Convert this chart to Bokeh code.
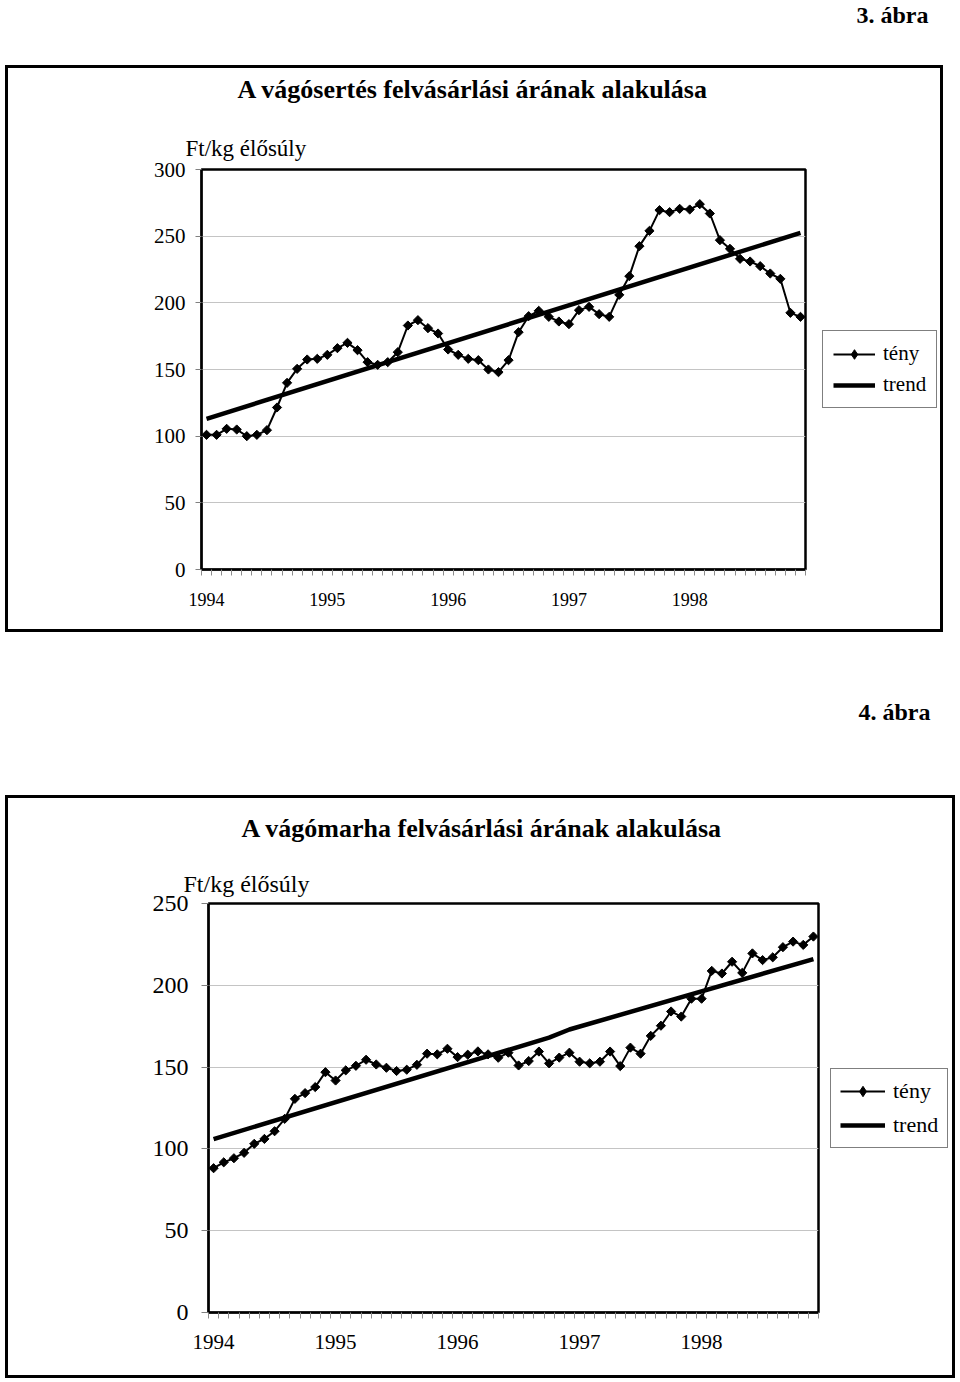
from bokeh.plotting import figure
from bokeh.layouts import column, row
from bokeh.models import Legend, LegendItem, FixedTicker, Range1d, Title, InlineStyleSheet
from bokeh.embed import file_html
from bokeh.resources import INLINE

FONT = "Liberation Serif"
HAS_STANDOFF = "standoff" in Title.properties()

# ---------------- data ----------------
years = ["1994", "1995", "1996", "1997", "1998"]
months_per_year = 12
n_months = len(years) * months_per_year
month_index = list(range(n_months))
year_tick_pos = [i * months_per_year for i in range(len(years))]

series_names = ["tény", "trend"]
unit_label = "Ft/kg élősúly"

fig3_label = "3. ábra"
pig_title = "A vágósertés felvásárlási árának alakulása"
pig_teny = [101, 101, 105.5, 105, 100, 101, 104.5, 121.5, 140, 150.5,
            157.5, 158, 161, 166, 170, 164.5, 155.5, 153.5, 155.5, 163,
            183, 187, 181, 177, 165, 161, 158, 157, 150, 148,
            157, 178, 190, 194, 189.5, 186, 184, 194.5, 197, 191.5,
            189.5, 206, 220, 242.5, 254, 269.5, 268, 270.5, 270, 274,
            267, 247, 240.5, 233, 231, 227.5, 222, 218, 192.5, 189.5]
pig_trend_x = [0, 59]
pig_trend = [113, 252.5]
pig_y_ticks = [0, 50, 100, 150, 200, 250, 300]

fig4_label = "4. ábra"
cattle_title = "A vágómarha felvásárlási árának alakulása"
cattle_teny = [88.2, 91.8, 94.3, 97.6, 103.1, 106.1, 110.8, 118.4, 130.6, 134.1,
               137.8, 146.9, 141.8, 148, 150.8, 154.5, 151.6, 149.6, 147.6, 148.4,
               151.4, 158.2, 157.8, 161.2, 156.1, 157.6, 159.6, 157.8, 155.7, 158.8,
               151, 153.7, 159.5, 152.3, 155.8, 158.8, 153.3, 152.3, 153.3, 159.5,
               150.6, 161.9, 158.2, 169.1, 175.3, 184, 180.9, 191.8, 191.8, 208.8,
               207.2, 214.4, 207.6, 219.5, 215.4, 217.1, 223.3, 226.7, 224.7, 229.8]
cattle_trend_x = [0, 33, 35, 59]
cattle_trend = [106, 168, 173, 216]
cattle_y_ticks = [0, 50, 100, 150, 200, 250]


def make_title(text, size, bold, align, offset, standoff):
    t = Title(text=text, align=align, offset=offset, text_font=FONT, text_font_size=size,
              text_font_style="bold" if bold else "normal", text_color="black")
    if HAS_STANDOFF:
        t.standoff = standoff
    return t


def box_css(left, top, width, height):
    return InlineStyleSheet(css=(
        ":host { position: relative; }\n"
        ":host::after { content: ''; position: absolute; left: %dpx; top: %dpx; "
        "width: %dpx; height: %dpx; border: 3px solid black; box-sizing: border-box; "
        "pointer-events: none; z-index: 50; }" % (left, top, width, height)))


def chart(teny, trend_x, trend_y, y_ticks, title, fig_label, geom, fonts, titles_cfg,
          legend_cfg, ticks_cfg, box):
    left, top, fw, fh, right, bottom = geom
    f_title, f_unit, f_y, f_x, f_leg, f_fig = fonts
    p = figure(frame_width=fw, frame_height=fh,
               min_border_left=left, min_border_top=top, min_border_right=right, min_border_bottom=bottom,
               x_range=Range1d(-0.5, len(teny) - 0.5), y_range=Range1d(y_ticks[0], y_ticks[-1]),
               title=None, toolbar_location=None, output_backend="svg",
               align="start", stylesheets=[box_css(*box)])
    p.background_fill_color = "white"
    p.border_fill_color = "white"
    p.outline_line_color = "black"
    p.outline_line_width = 2.5

    yt = FixedTicker(ticks=y_ticks, minor_ticks=[])
    ya = p.yaxis[0]
    ya.ticker = yt
    ya.axis_line_color = "black"
    ya.axis_line_width = 2
    ya.major_tick_in = 0
    ya.major_tick_out = ticks_cfg[0]
    ya.major_tick_line_color = "#808080"
    ya.minor_tick_line_color = None
    ya.major_label_standoff = ticks_cfg[1]
    ya.major_label_text_font = FONT
    ya.major_label_text_font_size = f_y
    ya.major_label_text_color = "black"

    xa = p.xaxis[0]
    xa.ticker = FixedTicker(ticks=year_tick_pos, minor_ticks=[i - 0.5 for i in range(len(teny) + 1)])
    xa.major_label_overrides = {t: y for t, y in zip(year_tick_pos, years)}
    xa.axis_line_color = "black"
    xa.axis_line_width = 2
    xa.major_tick_line_color = None
    xa.major_tick_in = 0
    xa.major_tick_out = 0
    xa.minor_tick_in = 0
    xa.minor_tick_out = 6
    xa.minor_tick_line_color = "#8c8c8c"
    xa.major_label_standoff = ticks_cfg[2]
    xa.major_label_text_font = FONT
    xa.major_label_text_font_size = f_x
    xa.major_label_text_color = "black"

    p.xgrid.visible = False
    p.ygrid.ticker = yt
    p.ygrid.grid_line_color = "#c4c4c4"
    p.ygrid.grid_line_width = 1

    r_line = p.line(month_index, teny, line_color="black", line_width=2)
    p.scatter(month_index, teny, marker="square", angle=0.785398, size=6.5,
              fill_color="black", line_color="black")
    r_trend = p.line(trend_x, trend_y, line_color="black", line_width=4.5)
    # diamond used only for the legend sample (hidden in the plot itself)
    r_key = p.scatter(month_index, teny, marker="diamond", size=10,
                      fill_color="black", line_color="black", visible=False)

    glyph_w, pad, row_h, spacing, lmargin = legend_cfg
    legend = Legend(items=[LegendItem(label=series_names[0], renderers=[r_line, r_key]),
                           LegendItem(label=series_names[1], renderers=[r_trend])],
                    location="center_left", orientation="vertical",
                    border_line_color="black", border_line_width=1.5,
                    background_fill_color="white", background_fill_alpha=1,
                    inactive_fill_alpha=0,
                    label_text_font=FONT, label_text_font_size=f_leg, label_text_color="black",
                    glyph_width=glyph_w, glyph_height=row_h, label_height=row_h,
                    label_standoff=8, padding=pad, spacing=spacing, margin=lmargin)
    p.add_layout(legend, "right")

    (unit_off, unit_so), (title_off, title_so), spacer_so, (fig_off, fig_so) = titles_cfg
    # stacked outward from the frame: unit label, chart title, spacer, figure number
    p.add_layout(make_title(unit_label, f_unit, False, "left", unit_off, unit_so), "above")
    p.add_layout(make_title(title, f_title, True, "left", title_off, title_so), "above")
    p.add_layout(make_title(" ", "2px", False, "left", 0, spacer_so), "above")
    p.add_layout(make_title(fig_label, f_fig, True, "right", fig_off, fig_so), "above")
    return p


c1 = chart(pig_teny, pig_trend_x, pig_trend, pig_y_ticks, pig_title, fig3_label,
           geom=(201, 170, 604, 400, 155, 63),
           fonts=("26px", "23px", "21px", "18px", "21px", "24px"),
           titles_cfg=((-16, 17), (36, 43), 20, (-123, 0)),
           legend_cfg=(42, 10, 24, 6, 17),
           ticks_cfg=(6, 10, 17), box=(5, 66, 938, 567))
c2 = chart(cattle_teny, cattle_trend_x, cattle_trend, cattle_y_ticks, cattle_title, fig4_label,
           geom=(208, 207, 610, 409, 142, 66),
           fonts=("26px", "24px", "24px", "21px", "22px", "24px"),
           titles_cfg=((-25, 14), (33, 37), 65, (-112, 0)),
           legend_cfg=(45, 9, 26, 8, 12),
           ticks_cfg=(7, 13, 16), box=(5, 99, 950, 583))

# each chart in its own row so that their frames are not aligned to each other
root = column(row(c1, margin=(-1, 0, 0, 0)), row(c2, margin=(64, 0, 0, 0)))

open("out.html", "w").write(file_html(root, INLINE))
